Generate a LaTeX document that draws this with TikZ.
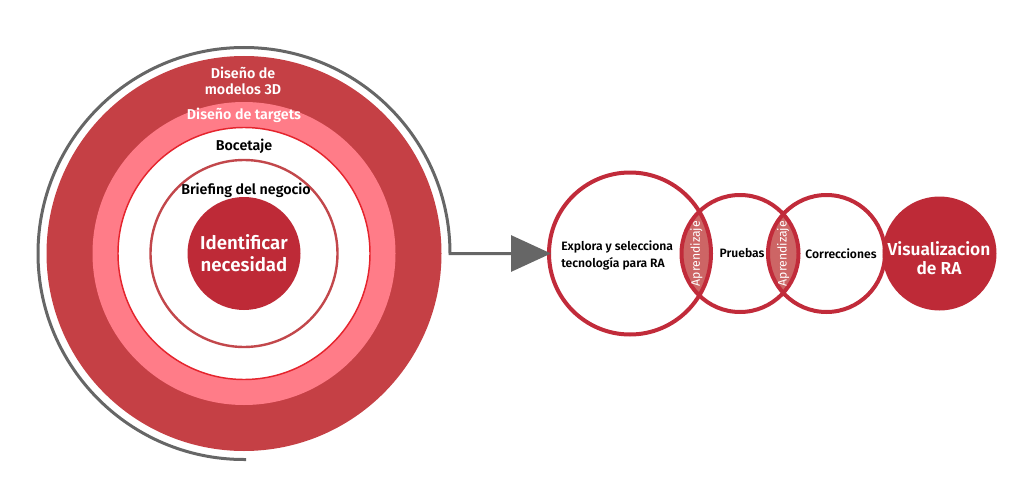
\documentclass[tikz,border=0pt]{standalone}
\usepackage{fontspec}
\setmainfont{Fira Sans}[BoldFont={Fira Sans SemiBold}]
\usetikzlibrary{arrows.meta}
\definecolor{ringdark}{HTML}{C54045}
\definecolor{ringpink}{HTML}{FF7C88}
\definecolor{thinred}{HTML}{E5242D}
\definecolor{innerred}{HTML}{C2474B}
\definecolor{coreRed}{HTML}{BE2A37}
\definecolor{stepred}{HTML}{C12B3A}
\definecolor{lensfill}{HTML}{CD6565}
\definecolor{arrowgray}{HTML}{666666}
\tikzset{
  disc/.style={circle, inner sep=0pt, outer sep=0pt},
  stepcircle/.style={circle, draw=stepred, line width=3pt, inner sep=0pt, fill=none},
  ringlabel/.style={font=\bfseries\fontsize{10.7}{11.6}\selectfont, align=center, inner sep=0pt},
  steplabel/.style={font=\bfseries\fontsize{9.1}{12.8}\selectfont, align=left, inner sep=0pt},
  lenslabel/.style={font=\fontsize{9.2}{10}\selectfont, text=white, rotate=90, inner sep=0pt},
  flow/.style={draw=arrowgray, line width=2.25pt, -{Triangle[length=30pt,width=27pt]}}
}
\begin{document}
\begin{tikzpicture}[x=0.75pt,y=0.75pt]
\useasboundingbox (0,0) rectangle (1021,-492);
% concentric circles
\node[disc, fill=ringdark, minimum size=395*0.75pt] (outer) at (244,-253.5) {};
\node[disc, fill=ringpink, minimum size=303*0.75pt] (pink) at (244,-253.5) {};
\node[disc, fill=white, draw=thinred, line width=1.1pt, minimum size=252*0.75pt] (boc) at (244,-253.5) {};
\node[disc, fill=white, draw=innerred, line width=1.8pt, minimum size=187*0.75pt] (brief) at (244,-253.5) {};
\node[disc, fill=coreRed, minimum size=113*0.75pt, text=white, align=center,
      font=\bfseries\fontsize{14}{16.5}\selectfont] (core) at (244,-253.5) {Identificar\\necesidad};
% ring labels
\node[ringlabel, text=white] (l3d) at (243,-81) {Diseño de\\modelos 3D};
\node[ringlabel, text=white] (ltar) at (244,-115.5) {Diseño de targets};
\node[ringlabel, text=black] (lboc) at (244,-146) {Bocetaje};
\node[ringlabel, text=black] (lbrief) at (246,-190.5) {Briefing del negocio};
% lenses
\begin{scope}
  \clip (630,-253.5) circle (81);
  \fill[lensfill] (740,-253.5) circle (58.5);
\end{scope}
\begin{scope}
  \clip (740,-253.5) circle (58.5);
  \fill[lensfill] (826.5,-253.5) circle (58.5);
\end{scope}
% step circles
\node[stepcircle, minimum size=162*0.75pt] (c1) at (630,-253.5) {};
\node[stepcircle, minimum size=117*0.75pt] (c2) at (740,-253.5) {};
\node[stepcircle, minimum size=117*0.75pt] (c3) at (826.5,-253.5) {};
\node[disc, fill=coreRed, minimum size=114*0.75pt] (c4) at (939.5,-253.5) {};
% step labels
\node[steplabel, anchor=west] (t1) at (561,-255) {Explora y selecciona\\tecnología para RA};
\node[steplabel] (t2) at (742,-253.5) {Pruebas};
\node[steplabel] (t3) at (841,-253.5) {Correcciones};
\node[font=\bfseries\fontsize{13}{14.5}\selectfont, text=white, align=center, inner sep=0pt] (t4) at (939,-258) {Visualizacion\\de RA};
\node[lenslabel] (a1) at (696.5,-253.5) {Aprendizaje};
\node[lenslabel] (a2) at (783.2,-253.5) {Aprendizaje};
% spiral connector
\coordinate (sp) at (246,-459.5);
\draw[flow] (sp) -- (244,-459.5) arc[start angle=-90, end angle=-360, radius=206] -- ([xshift=3pt]c1.west);
\end{tikzpicture}
\end{document}
